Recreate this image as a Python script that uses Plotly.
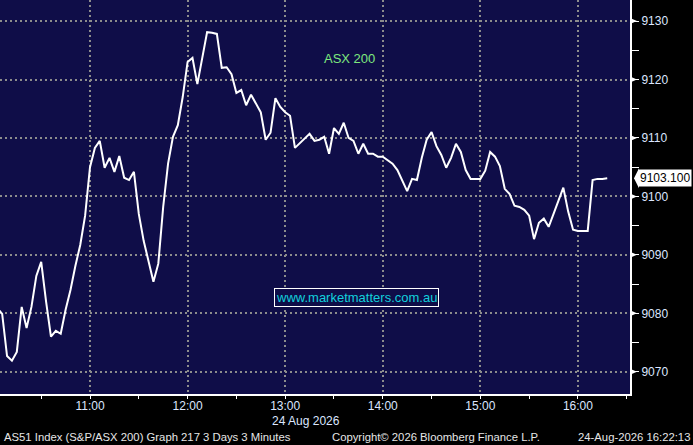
import plotly.graph_objects as go
import pandas as pd

# ---- data (3-minute bars, 24 Aug 2026, from 10:03) ----
start_time = "2026-08-24 10:03"
values = [
    9080.9, 9079.9, 9072.7, 9071.9, 9073.4, 9081.1, 9077.5, 9081.1, 9086.4, 9088.8,
    9082.0, 9076.0, 9077.0, 9076.5, 9080.6, 9084.0, 9088.1, 9091.7, 9096.7, 9105.0,
    9108.3, 9109.5, 9104.9, 9106.6, 9104.2, 9106.9, 9103.2, 9102.8, 9104.2, 9097.0,
    9092.4, 9088.8, 9085.4, 9088.5, 9098.2, 9105.6, 9110.2, 9112.2, 9117.0, 9123.0,
    9123.7, 9119.2, 9123.7, 9128.1, 9128.0, 9127.8, 9122.0, 9122.1, 9120.9, 9117.7,
    9118.2, 9115.6, 9117.4, 9116.0, 9114.4, 9109.7, 9110.9, 9116.8, 9115.3, 9114.4,
    9113.8, 9108.3, 9109.1, 9110.0, 9110.7, 9109.5, 9109.7, 9110.2, 9107.3, 9111.7,
    9110.7, 9112.6, 9110.0, 9109.5, 9107.3, 9109.0, 9107.3, 9107.3, 9106.8, 9106.8,
    9106.2, 9105.6, 9104.5, 9102.8, 9100.9, 9103.0, 9102.8, 9106.6, 9109.7, 9111.0,
    9108.6, 9107.1, 9104.9, 9106.6, 9109.0, 9107.6, 9104.5, 9103.0, 9103.0, 9103.0,
    9104.4, 9107.6, 9106.8, 9105.2, 9101.3, 9100.4, 9098.4, 9098.2, 9097.7, 9096.7,
    9092.7, 9095.5, 9096.2, 9094.8, 9097.0, 9099.2, 9101.5, 9097.4, 9094.3, 9094.1,
    9094.1, 9094.1, 9102.8, 9103.0, 9103.0, 9103.1,
]
last_value = 9103.1
x_ticks = ["2026-08-24 11:00", "2026-08-24 12:00", "2026-08-24 13:00",
           "2026-08-24 14:00", "2026-08-24 15:00", "2026-08-24 16:00"]
x_tick_labels = ["11:00", "12:00", "13:00", "14:00", "15:00", "16:00"]
y_ticks = [9070, 9080, 9090, 9100, 9110, 9120, 9130]
y_tick_labels = ["9070", "9080", "9090", "9100", "9110", "9120", "9130"]
series_name = "ASX 200"
date_label = "24 Aug 2026"
footer_left = "AS51 Index (S&P/ASX 200) Graph 217 3 Days 3 Minutes"
footer_mid = "Copyright© 2026 Bloomberg Finance L.P."
footer_right = "24-Aug-2026 16:22:13"
watermark = "www.marketmatters.com.au"

times = pd.date_range(start_time, periods=len(values), freq="3min")

W, H = 693, 445
ML, MR, MT, MB = 0, 63, 0, 51
PW = W - ML - MR  # 630
PH = H - MT - MB  # 394

FONT = "Liberation Sans"
LBL = "#dce6ff"
GRID = "#8c8c8c"

fig = go.Figure()
fig.add_trace(go.Scatter(x=times, y=values, mode="lines",
                         line=dict(color="white", width=2), hoverinfo="skip",
                         showlegend=False))

fig.update_layout(
    width=W, height=H,
    margin=dict(l=ML, r=MR, t=MT, b=MB, pad=0),
    paper_bgcolor="black",
    plot_bgcolor="#0f0d48",
    showlegend=False,
    font=dict(family=FONT, size=12, color=LBL),
)

fig.update_xaxes(
    type="date",
    range=["2026-08-24 10:04:40", "2026-08-24 16:32:00"],
    tickvals=x_ticks, ticktext=x_tick_labels,
    showgrid=True, gridcolor=GRID, gridwidth=1.5, griddash="2px,3px",
    showline=True, linecolor="white", linewidth=2,
    ticks="outside", ticklen=3, tickcolor="white", tickwidth=1,
    ticklabelstandoff=-3,
    minor=dict(dtick=30 * 60 * 1000, tick0="2026-08-24 10:30", ticks="outside",
               ticklen=3, tickcolor="white", showgrid=False),
    tickfont=dict(family=FONT, size=12, color=LBL),
    zeroline=False,
)

fig.update_yaxes(
    side="right",
    range=[9066.2, 9133.6],
    tickvals=y_ticks, ticktext=y_tick_labels,
    showgrid=True, gridcolor=GRID, gridwidth=1.5, griddash="2px,3px",
    showline=True, linecolor="white", linewidth=2,
    ticks="outside", ticklen=7, tickcolor="white", tickwidth=1,
    minor=dict(dtick=5, tick0=9065, ticks="outside", ticklen=7,
               tickcolor="white", showgrid=False),
    tickfont=dict(family=FONT, size=12, color=LBL),
    zeroline=False,
)

# triangle markers on major y ticks
shapes = []
dy = 3.0 / 5.85
for v in y_ticks:
    shapes.append(dict(type="path", xref="paper", yref="y",
                       path=f"M 1.0,{v - dy} L {1 + 7 / PW},{v} L 1.0,{v + dy} Z",
                       fillcolor="white", line=dict(color="white", width=0)))
# last-value tag pointer
shapes.append(dict(type="path", xref="paper", yref="y",
                   path=f"M {1 + 4 / PW},{last_value} L {1 + 9 / PW},{last_value - 10 / 5.85} "
                        f"L {1 + 9 / PW},{last_value + 10 / 5.85} Z",
                   fillcolor="white", line=dict(color="white", width=0)))
fig.update_layout(shapes=shapes)

def py(p):  # pixel row -> paper y
    return (PH - p) / PH

anns = [
    dict(x=1 + 8 / PW, y=last_value, xref="paper", yref="y", text=f"{last_value:.3f}",
         showarrow=False, xanchor="left", yanchor="middle", bgcolor="white",
         font=dict(family=FONT, size=12, color="black"), borderpad=1),
    dict(x=349 / PW, y=py(58), xref="paper", yref="paper", text=series_name,
         showarrow=False, xanchor="center", yanchor="middle",
         font=dict(family=FONT, size=13, color="#7ee87e")),
    dict(x=356 / PW, y=py(297), xref="paper", yref="paper", text=watermark,
         showarrow=False, xanchor="center", yanchor="middle",
         bordercolor="white", borderwidth=1, borderpad=1, bgcolor="#0f0d48",
         font=dict(family=FONT, size=13, color="#12d0dc")),
    dict(x=270 / PW, y=py(421), xref="paper", yref="paper", text=date_label,
         showarrow=False, xanchor="left", yanchor="middle",
         font=dict(family=FONT, size=12, color=LBL)),
    dict(x=2 / PW, y=py(437), xref="paper", yref="paper", text=footer_left,
         showarrow=False, xanchor="left", yanchor="middle",
         font=dict(family=FONT, size=11.3, color="#e6e6e6")),
    dict(x=330 / PW, y=py(437), xref="paper", yref="paper", text=footer_mid,
         showarrow=False, xanchor="left", yanchor="middle",
         font=dict(family=FONT, size=11.3, color="#e6e6e6")),
    dict(x=692 / PW, y=py(437), xref="paper", yref="paper", text=footer_right,
         showarrow=False, xanchor="right", yanchor="middle",
         font=dict(family=FONT, size=11.3, color="#e6e6e6")),
]
fig.update_layout(annotations=anns)

fig.write_html("out.html", config={"displayModeBar": False},
               post_script="document.body.style.margin='0';document.body.style.background='black';")
